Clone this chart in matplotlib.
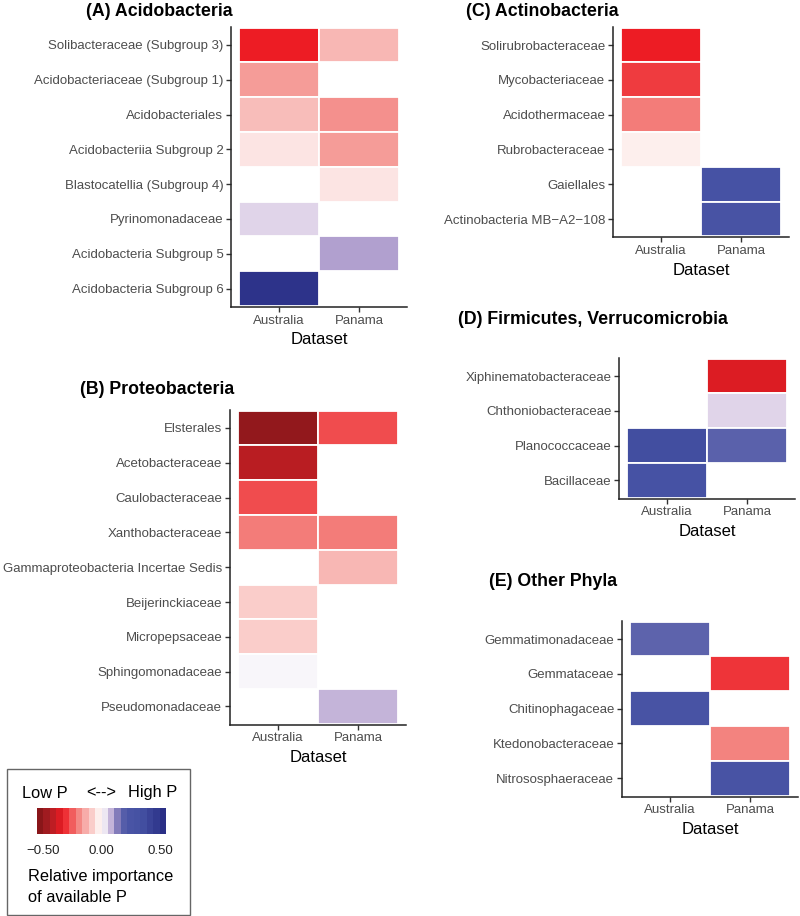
"""Heatmaps of relative importance of available P per bacterial family."""

import numpy as np
import matplotlib

matplotlib.use("Agg")
import matplotlib.pyplot as plt
from matplotlib.colors import LinearSegmentedColormap, Normalize
from matplotlib.patches import Rectangle

plt.rcParams["font.family"] = ["Liberation Sans", "DejaVu Sans"]

W, H = 800, 916
datasets = ["Australia", "Panama"]
nan = np.nan

# (A) Acidobacteria
acido_taxa = [
    "Solibacteraceae (Subgroup 3)",
    "Acidobacteriaceae (Subgroup 1)",
    "Acidobacteriales",
    "Acidobacteriia Subgroup 2",
    "Blastocatellia (Subgroup 4)",
    "Pyrinomonadaceae",
    "Acidobacteria Subgroup 5",
    "Acidobacteria Subgroup 6",
]
acido_aus = [-0.33, -0.16, -0.11, -0.045, nan, 0.05, nan, 0.50]
acido_pan = [-0.12, nan, -0.18, -0.16, -0.045, nan, 0.105, nan]

# (B) Proteobacteria
proteo_taxa = [
    "Elsterales",
    "Acetobacteraceae",
    "Caulobacteraceae",
    "Xanthobacteraceae",
    "Gammaproteobacteria Incertae Sedis",
    "Beijerinckiaceae",
    "Micropepsaceae",
    "Sphingomonadaceae",
    "Pseudomonadaceae",
]
proteo_aus = [-0.50, -0.42, -0.27, -0.21, nan, -0.085, -0.085, 0.01, nan]
proteo_pan = [-0.27, nan, nan, -0.21, -0.12, nan, nan, nan, 0.085]

# (C) Actinobacteria
actino_taxa = [
    "Solirubrobacteraceae",
    "Mycobacteriaceae",
    "Acidothermaceae",
    "Rubrobacteraceae",
    "Gaiellales",
    "Actinobacteria MB\u2212A2\u2212108",
]
actino_aus = [-0.33, -0.29, -0.21, -0.03, nan, nan]
actino_pan = [nan, nan, nan, nan, 0.30, 0.27]

# (D) Firmicutes, Verrucomicrobia
firmi_taxa = [
    "Xiphinematobacteraceae",
    "Chthoniobacteraceae",
    "Planococcaceae",
    "Bacillaceae",
]
firmi_aus = [nan, nan, 0.36, 0.30]
firmi_pan = [-0.36, 0.05, 0.18, nan]

# (E) Other Phyla
other_taxa = [
    "Gemmatimonadaceae",
    "Gemmataceae",
    "Chitinophagaceae",
    "Ktedonobacteraceae",
    "Nitrososphaeraceae",
]
other_aus = [0.17, nan, 0.27, nan, nan]
other_pan = [nan, -0.30, nan, -0.20, 0.27]

# colour scale
vmin, vmax = -0.55, 0.55
anchors = [
    (-0.55, "#7E1416"),
    (-0.45, "#A81D22"),
    (-0.33, "#ED1C24"),
    (-0.20, "#F3837F"),
    (-0.08, "#FAD0CD"),
    (0.00, "#FFFFFF"),
    (0.06, "#D9CBE4"),
    (0.12, "#A593C8"),
    (0.16, "#6166AD"),
    (0.22, "#4A55A6"),
    (0.35, "#4450A2"),
    (0.55, "#262A82"),
]
cmap = LinearSegmentedColormap.from_list(
    "pimp", [((v - vmin) / (vmax - vmin), c) for v, c in anchors]
)
norm = Normalize(vmin, vmax)

fig = plt.figure(figsize=(W / 100, H / 100), dpi=100)

ROW = 34.8
UNIT = 80


def px_axes(left, top, width, height):
    return fig.add_axes([left / W, 1 - (top + height) / H, width / W, height / H])


def panel(title, title_x, title_y, taxa, aus, pan, left, first_tick):
    n = len(taxa)
    top = first_tick - 0.52 * ROW
    height = (n - 1 + 0.52 + 0.53) * ROW
    ax = px_axes(left, top, 2.2 * UNIT, height)
    for j, vals in enumerate([aus, pan]):
        for i, v in enumerate(vals):
            if np.isnan(v):
                continue
            ax.add_patch(Rectangle((j - 0.5, i - 0.5), 1, 1,
                                   facecolor=cmap(norm(v)), edgecolor="white",
                                   linewidth=1.3))
    ax.set_xlim(-0.6, 1.6)
    ax.set_ylim(n - 0.5 + 0.03, -0.52)
    ax.set_xticks(range(2))
    ax.set_xticklabels(datasets)
    ax.set_yticks(range(n))
    ax.set_yticklabels(taxa)
    ax.tick_params(labelsize=9.5, colors="#333333", labelcolor="#4D4D4D",
                   length=3.5, width=1.0, pad=2)
    for s in ("top", "right"):
        ax.spines[s].set_visible(False)
    for s in ("left", "bottom"):
        ax.spines[s].set_linewidth(1.1)
        ax.spines[s].set_color("#222222")
    ax.set_xlabel("Dataset", fontsize=12, labelpad=4)
    fig.text(title_x / W, 1 - title_y / H, title, fontsize=12.8,
             fontweight="bold", ha="left", va="center")
    return ax


panel("(A) Acidobacteria", 86, 11, acido_taxa, acido_aus, acido_pan, 231, 45)
panel("(B) Proteobacteria", 80, 390, proteo_taxa, proteo_aus, proteo_pan, 230, 428)
panel("(C) Actinobacteria", 466, 11, actino_taxa, actino_aus, actino_pan, 613, 45)
panel("(D) Firmicutes, Verrucomicrobia", 458, 319, firmi_taxa, firmi_aus,
      firmi_pan, 619, 376)
panel("(E) Other Phyla", 489, 582, other_taxa, other_aus, other_pan, 622, 639)

# legend box
fig.patches.append(Rectangle((7 / W, 1 - 915 / H), 183 / W, 146 / H,
                             transform=fig.transFigure, fill=False,
                             edgecolor="#666666", linewidth=1.0))
fig.text(22 / W, 1 - 793 / H, "Low P", fontsize=11.8, ha="left", va="center")
fig.text(101 / W, 1 - 793 / H, "<-->", fontsize=11.8, ha="center", va="center")
fig.text(177 / W, 1 - 793 / H, "High P", fontsize=11.8, ha="right", va="center")

cax = px_axes(37, 808, 129, 26)
nbins = 20
edges = np.linspace(vmin, vmax, nbins + 1)
centers = (edges[:-1] + edges[1:]) / 2
cax.pcolormesh(edges, [0, 1], centers[np.newaxis, :], cmap=cmap, norm=norm)
cax.set_xlim(vmin, vmax)
cax.set_ylim(0, 1)
cax.set_yticks([])
cax.set_xticks([-0.5, 0.0, 0.5])
cax.set_xticklabels(["\u22120.50", "0.00", "0.50"])
cax.tick_params(axis="x", length=0, labelsize=9.5, labelcolor="#222222", pad=8)
for s in cax.spines.values():
    s.set_visible(False)

fig.text(28 / W, 1 - 877 / H, "Relative importance", fontsize=11.8,
         ha="left", va="center")
fig.text(28 / W, 1 - 897 / H, "of available P", fontsize=11.8,
         ha="left", va="center")

fig.savefig("out.png", dpi=100)
